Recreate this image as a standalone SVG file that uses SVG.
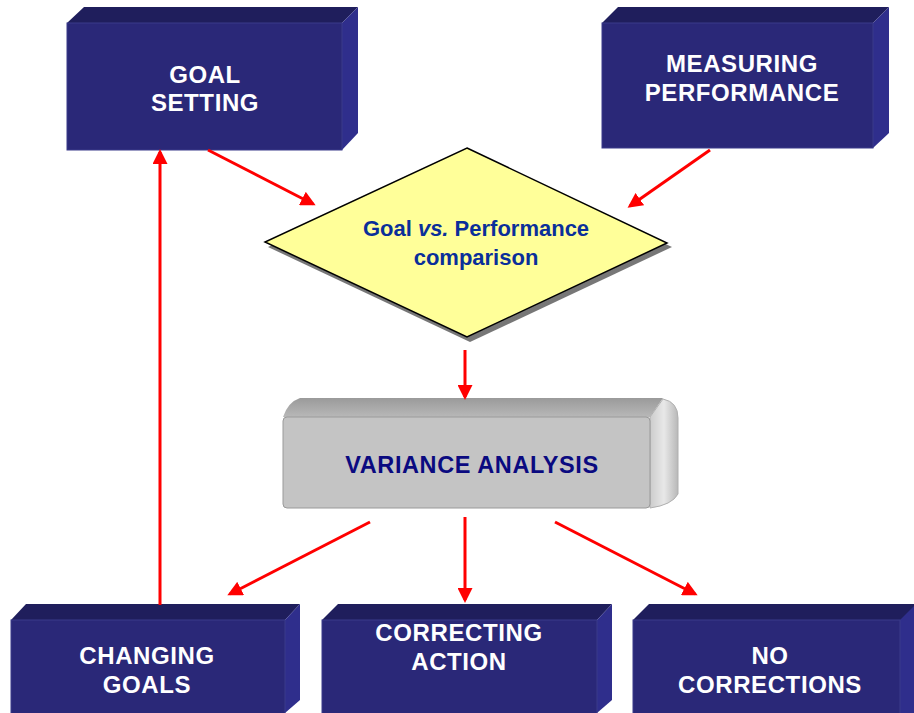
<svg xmlns="http://www.w3.org/2000/svg" width="914" height="713" viewBox="0 0 914 713">
<defs>
<style>
.front{fill:#2a2878;stroke:#3a3a8a;stroke-width:1}
.top{fill:#1f1e5c}
.side{fill:#2f2e8c}
.wt{font-family:"Liberation Sans",Arial,sans-serif;font-weight:bold;font-size:24px;letter-spacing:0.6px;fill:#ffffff;text-anchor:middle}
.bt{font-family:"Liberation Sans",Arial,sans-serif;font-weight:bold;font-size:22px;fill:#0a2f9a;text-anchor:middle}
.conn{stroke:#ff0000;stroke-width:3;fill:none;marker-end:url(#ah)}
</style>
<marker id="ah" viewBox="0 0 10 10" refX="8" refY="5" markerWidth="5" markerHeight="5" orient="auto" markerUnits="strokeWidth">
<path d="M0,0 L10,5 L0,10 z" fill="#ff0000"/>
</marker>
<linearGradient id="gtop" x1="0" y1="0" x2="0" y2="1">
<stop offset="0" stop-color="#9a9a9a"/><stop offset="1" stop-color="#b8b8b8"/>
</linearGradient>
<linearGradient id="gside" x1="0" y1="0" x2="1" y2="0">
<stop offset="0" stop-color="#cccccc"/><stop offset="0.5" stop-color="#e8e8e8"/><stop offset="1" stop-color="#b8b8b8"/>
</linearGradient>
</defs>
<rect width="914" height="713" fill="#ffffff"/>

<g id="goal-setting">
<polygon class="top" points="67,23 84,7 358,7 342,23"/>
<polygon class="side" points="342,23 358,7 358,133 342,150"/>
<rect class="front" x="67" y="23" width="275" height="127"/>
<text class="wt" x="205" y="83">GOAL</text>
<text class="wt" x="205" y="111">SETTING</text>
</g>

<g id="measuring-performance">
<polygon class="top" points="602,23 618,7 889,7 873,23"/>
<polygon class="side" points="873,23 889,7 889,133 873,148"/>
<rect class="front" x="602" y="23" width="271" height="125"/>
<text class="wt" x="742" y="72">MEASURING</text>
<text class="wt" x="742" y="101">PERFORMANCE</text>
</g>

<g id="comparison">
<polygon points="470,152 672,247 470,342 268,247" fill="#555555" opacity="0.8"/>
<polygon points="467,148 667,243 467,337 265,242" fill="#ffff99" stroke="#000000" stroke-width="1.5"/>
<text class="bt" x="476" y="236">Goal <tspan font-style="italic">vs.</tspan> Performance</text>
<text class="bt" x="476" y="265">comparison</text>
</g>

<g id="variance-analysis">
<path d="M300,398 L663,398 L650,417 L283,417 Q288,402 300,398 Z" fill="url(#gtop)"/>
<path d="M650,417 L663,399 Q678,402 678,418 L678,494 Q672,505 650,508 Z" fill="url(#gside)" stroke="#b0b0b0" stroke-width="1"/>
<rect x="283" y="417" width="367" height="91" rx="4" fill="#c4c4c4" stroke="#9a9a9a" stroke-width="1"/>
<text x="472" y="473" font-family="'Liberation Sans',Arial,sans-serif" font-weight="bold" font-size="23.5" letter-spacing="0.6" fill="#0a0a80" text-anchor="middle">VARIANCE ANALYSIS</text>
</g>

<g id="changing-goals">
<polygon class="top" points="11,620 26,604 300,604 285,620"/>
<polygon class="side" points="285,620 300,604 300,700 285,713"/>
<rect class="front" x="11" y="620" width="274" height="95"/>
<text class="wt" x="147" y="664">CHANGING</text>
<text class="wt" x="147" y="693">GOALS</text>
</g>

<g id="correcting-action">
<polygon class="top" points="322,620 338,604 612,604 597,620"/>
<polygon class="side" points="597,620 612,604 612,700 597,713"/>
<rect class="front" x="322" y="620" width="275" height="95"/>
<text class="wt" x="459" y="641">CORRECTING</text>
<text class="wt" x="459" y="670">ACTION</text>
</g>

<g id="no-corrections">
<polygon class="top" points="633,620 649,604 914,604 914,620"/>
<polygon class="side" points="900,620 914,606 914,713 900,713"/>
<rect class="front" x="633" y="620" width="267" height="95"/>
<text class="wt" x="770" y="664">NO</text>
<text class="wt" x="770" y="693">CORRECTIONS</text>
</g>

<g id="connectors">
<line class="conn" x1="208" y1="150" x2="313" y2="204"/>
<line class="conn" x1="710" y1="150" x2="630" y2="206"/>
<line class="conn" x1="465" y1="350" x2="465" y2="397"/>
<line class="conn" x1="160" y1="605" x2="160" y2="152"/>
<line class="conn" x1="370" y1="522" x2="230" y2="594"/>
<line class="conn" x1="465" y1="517" x2="465" y2="600"/>
<line class="conn" x1="555" y1="522" x2="695" y2="594"/>
</g>
</svg>
